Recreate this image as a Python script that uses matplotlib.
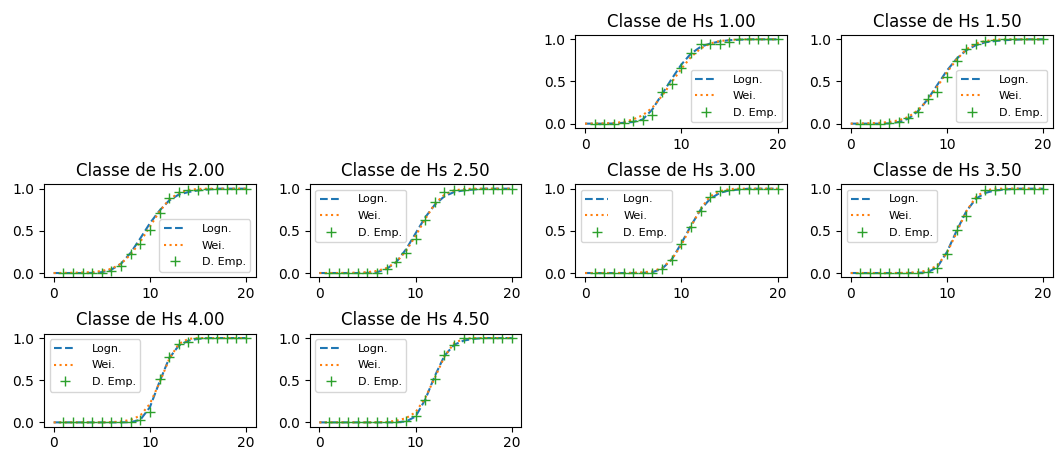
import matplotlib
matplotlib.use("Agg")
import matplotlib.pyplot as plt
import numpy as np

classes = ["1.00", "1.50", "2.00", "2.50", "3.00", "3.50", "4.00", "4.50"]
x_line = list(range(0, 21))
x_emp = list(range(1, 21))

logn_100 = [0, 0, 0, 0.002, 0.01, 0.02, 0.05, 0.17, 0.35, 0.53, 0.70, 0.83, 0.91, 0.95, 0.975, 0.99, 0.995, 1, 1, 1, 1]
wei_100 = [0, 0.001, 0.003, 0.008, 0.02, 0.05, 0.10, 0.19, 0.33, 0.49, 0.65, 0.79, 0.89, 0.95, 0.98, 0.99, 1, 1, 1, 1, 1]
emp_100 = [0, 0, 0, 0.01, 0.03, 0.04, 0.10, 0.37, 0.47, 0.66, 0.84, 0.94, 0.95, 0.95, 0.97, 1, 1, 1, 1, 1]

logn_150 = [0, 0, 0, 0, 0.003, 0.02, 0.06, 0.15, 0.29, 0.46, 0.63, 0.77, 0.87, 0.93, 0.965, 0.98, 0.99, 0.995, 1, 1, 1]
wei_150 = [0, 0.002, 0.005, 0.01, 0.02, 0.04, 0.08, 0.16, 0.28, 0.44, 0.61, 0.76, 0.88, 0.95, 0.98, 0.995, 1, 1, 1, 1, 1]
emp_150 = [0, 0, 0, 0.01, 0.02, 0.065, 0.14, 0.29, 0.37, 0.55, 0.74, 0.885, 0.95, 0.98, 0.99, 1, 1, 1, 1, 1]

logn_200 = [0, 0, 0, 0, 0.002, 0.01, 0.04, 0.11, 0.24, 0.41, 0.59, 0.74, 0.86, 0.93, 0.96, 0.98, 0.99, 1, 1, 1, 1]
wei_200 = [0, 0.001, 0.003, 0.006, 0.01, 0.025, 0.05, 0.11, 0.22, 0.37, 0.55, 0.73, 0.87, 0.95, 0.985, 0.997, 1, 1, 1, 1, 1]
emp_200 = [0, 0, 0, 0, 0, 0.02, 0.086, 0.23, 0.34, 0.51, 0.71, 0.89, 0.96, 0.98, 0.99, 1, 1, 1, 1, 1]

logn_250 = [0, 0, 0, 0, 0, 0.002, 0.01, 0.05, 0.13, 0.28, 0.47, 0.66, 0.81, 0.91, 0.96, 0.98, 0.99, 1, 1, 1, 1]
wei_250 = [0, 0, 0, 0.002, 0.005, 0.01, 0.025, 0.06, 0.13, 0.26, 0.44, 0.64, 0.82, 0.93, 0.98, 0.995, 1, 1, 1, 1, 1]
emp_250 = [0, 0, 0, 0, 0, 0, 0.05, 0.13, 0.24, 0.40, 0.63, 0.84, 0.96, 0.98, 0.99, 1, 1, 1, 1, 1]

logn_300 = [0, 0, 0, 0, 0, 0, 0.002, 0.01, 0.05, 0.16, 0.35, 0.56, 0.75, 0.88, 0.95, 0.98, 0.99, 1, 1, 1, 1]
wei_300 = [0, 0, 0, 0, 0.001, 0.003, 0.008, 0.02, 0.06, 0.16, 0.33, 0.55, 0.76, 0.91, 0.97, 0.995, 1, 1, 1, 1, 1]
emp_300 = [0, 0, 0, 0, 0, 0, 0, 0.05, 0.16, 0.35, 0.55, 0.74, 0.90, 0.97, 0.99, 1, 1, 1, 1, 1]

logn_350 = [0, 0, 0, 0, 0, 0, 0, 0.002, 0.01, 0.07, 0.25, 0.50, 0.73, 0.88, 0.95, 0.98, 0.99, 1, 1, 1, 1]
wei_350 = [0, 0, 0, 0, 0, 0.001, 0.003, 0.01, 0.03, 0.09, 0.24, 0.48, 0.73, 0.90, 0.98, 1, 1, 1, 1, 1, 1]
emp_350 = [0, 0, 0, 0, 0, 0, 0, 0.01, 0.06, 0.22, 0.51, 0.68, 0.89, 0.98, 0.99, 1, 1, 1, 1, 1]

logn_400 = [0, 0, 0, 0, 0, 0, 0, 0, 0.003, 0.03, 0.18, 0.48, 0.76, 0.91, 0.97, 0.99, 1, 1, 1, 1, 1]
wei_400 = [0, 0, 0, 0, 0, 0, 0.003, 0.01, 0.03, 0.08, 0.22, 0.47, 0.75, 0.93, 0.99, 1, 1, 1, 1, 1, 1]
emp_400 = [0, 0, 0, 0, 0, 0, 0, 0, 0.03, 0.12, 0.51, 0.77, 0.93, 0.95, 1, 1, 1, 1, 1, 1]

logn_450 = [0, 0, 0, 0, 0, 0, 0, 0, 0.002, 0.01, 0.07, 0.27, 0.55, 0.79, 0.92, 0.97, 0.99, 1, 1, 1, 1]
wei_450 = [0, 0, 0, 0, 0, 0, 0.001, 0.005, 0.02, 0.05, 0.12, 0.29, 0.53, 0.78, 0.94, 0.99, 1, 1, 1, 1, 1]
emp_450 = [0, 0, 0, 0, 0, 0, 0, 0, 0.02, 0.07, 0.27, 0.52, 0.80, 0.92, 1, 1, 1, 1, 1, 1]

logn_all = [logn_100, logn_150, logn_200, logn_250, logn_300, logn_350, logn_400, logn_450]
wei_all = [wei_100, wei_150, wei_200, wei_250, wei_300, wei_350, wei_400, wei_450]
emp_all = [emp_100, emp_150, emp_200, emp_250, emp_300, emp_350, emp_400, emp_450]
legend_locs = ["lower right", "lower right", "lower right", "upper left",
               "upper left", "upper left", "upper left", "upper left"]

fig = plt.figure(figsize=(10.56, 4.5), dpi=100)
gs = fig.add_gridspec(3, 4, left=0.0417, right=0.997, top=0.922, bottom=0.052,
                      wspace=0.255, hspace=0.61)
positions = [(0, 2), (0, 3), (1, 0), (1, 1), (1, 2), (1, 3), (2, 0), (2, 1)]

for i, (r, c) in enumerate(positions):
    ax = fig.add_subplot(gs[r, c])
    ax.plot(x_line, logn_all[i], "--", color="C0", label="Logn.")
    ax.plot(x_line, wei_all[i], ":", color="C1", label="Wei.")
    ax.plot(x_emp, emp_all[i], "+", color="C2", markersize=7, label="D. Emp.")
    ax.set_title("Classe de Hs " + classes[i])
    ax.set_xticks([0, 10, 20])
    ax.set_yticks([0.0, 0.5, 1.0])
    ax.legend(loc=legend_locs[i], fontsize=8, handletextpad=1.4, labelspacing=0.6)

fig.savefig("out.png", dpi=100)
